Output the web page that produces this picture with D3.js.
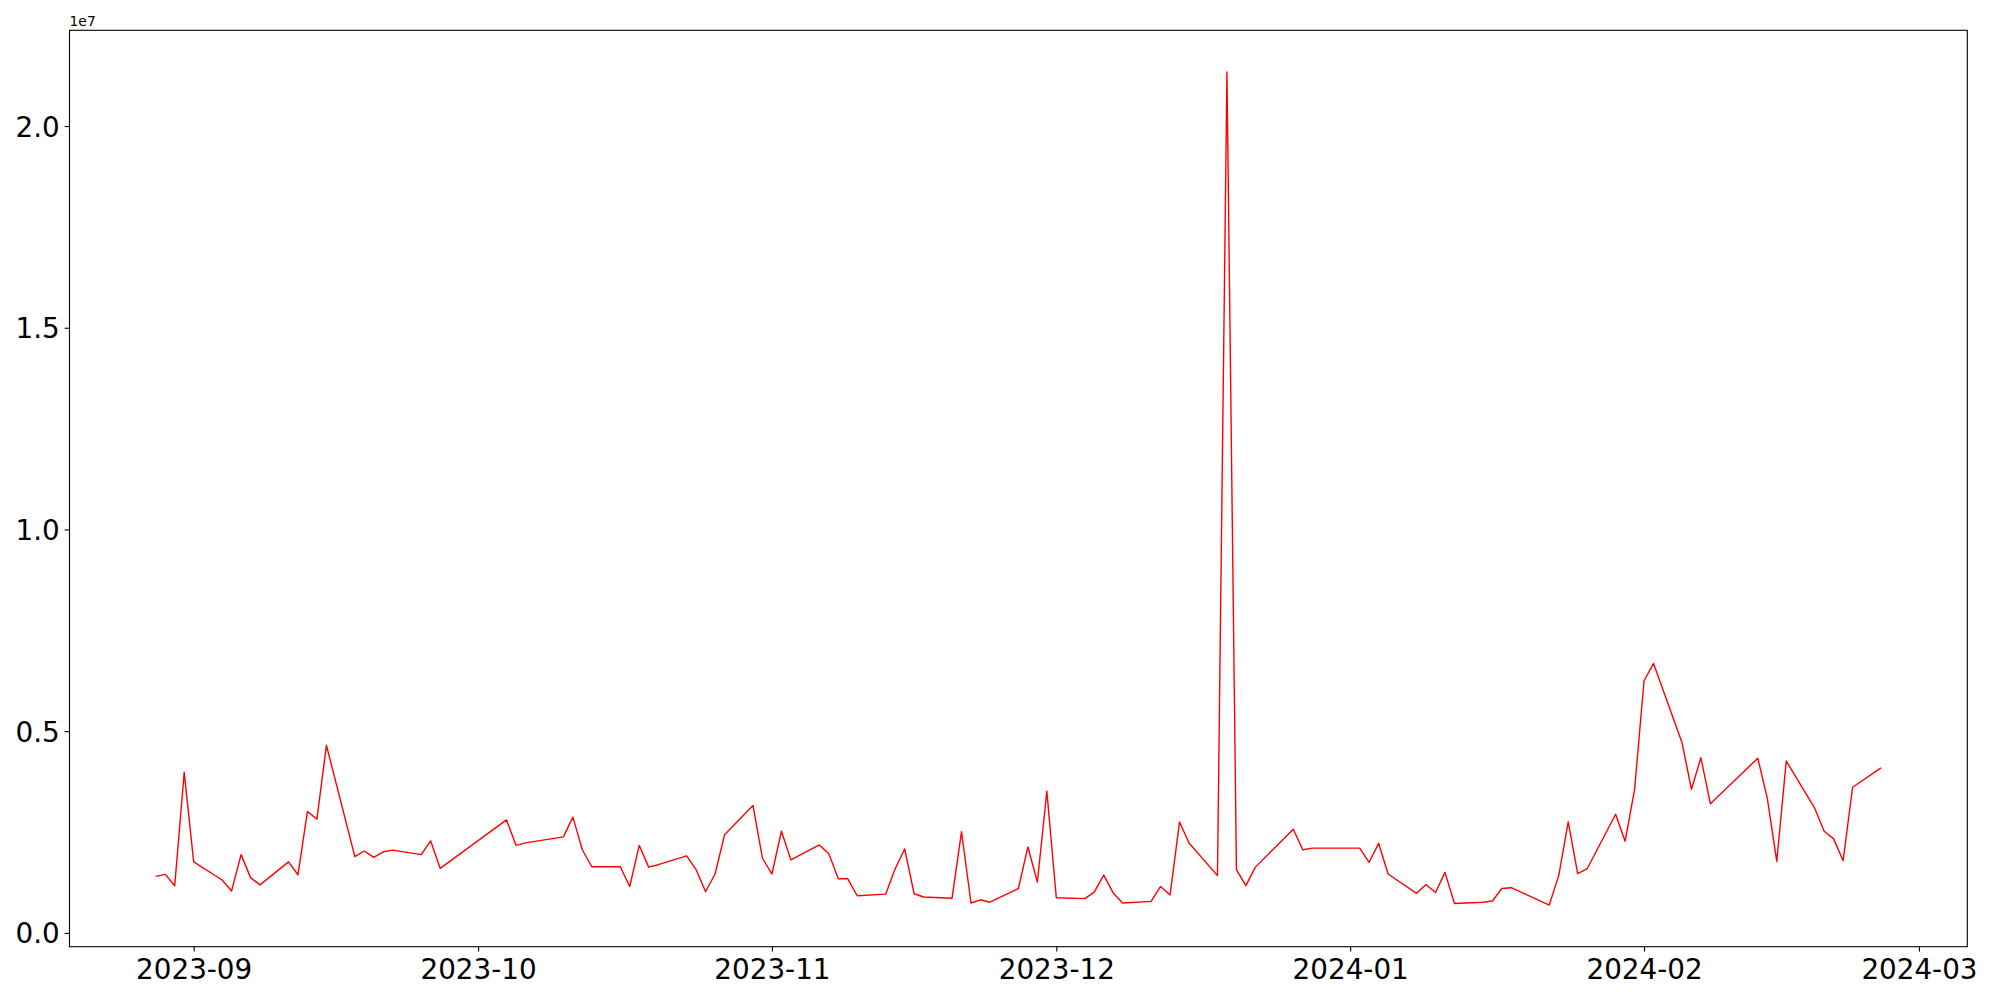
<!DOCTYPE html>
<html>
<head>
<meta charset="utf-8">
<script src="https://cdn.jsdelivr.net/npm/d3@7"></script>
<style>
  body { margin: 0; background: #fff; }
  text { font-family: "DejaVu Sans", sans-serif; fill: #000; }
</style>
</head>
<body>
<div id="chart"></div>
<script>
// trading days (KRX calendar) and daily values
var dates = [
  "2023-08-28","2023-08-29","2023-08-30","2023-08-31","2023-09-01",
  "2023-09-04","2023-09-05","2023-09-06","2023-09-07","2023-09-08",
  "2023-09-11","2023-09-12","2023-09-13","2023-09-14","2023-09-15",
  "2023-09-18","2023-09-19","2023-09-20","2023-09-21","2023-09-22",
  "2023-09-25","2023-09-26","2023-09-27",
  "2023-10-04","2023-10-05","2023-10-06",
  "2023-10-10","2023-10-11","2023-10-12","2023-10-13",
  "2023-10-16","2023-10-17","2023-10-18","2023-10-19","2023-10-20",
  "2023-10-23","2023-10-24","2023-10-25","2023-10-26","2023-10-27",
  "2023-10-30","2023-10-31","2023-11-01","2023-11-02","2023-11-03",
  "2023-11-06","2023-11-07","2023-11-08","2023-11-09","2023-11-10",
  "2023-11-13","2023-11-14","2023-11-15","2023-11-16","2023-11-17",
  "2023-11-20","2023-11-21","2023-11-22","2023-11-23","2023-11-24",
  "2023-11-27","2023-11-28","2023-11-29","2023-11-30","2023-12-01",
  "2023-12-04","2023-12-05","2023-12-06","2023-12-07","2023-12-08",
  "2023-12-11","2023-12-12","2023-12-13","2023-12-14","2023-12-15",
  "2023-12-18","2023-12-19","2023-12-20","2023-12-21","2023-12-22",
  "2023-12-26","2023-12-27","2023-12-28",
  "2024-01-02","2024-01-03","2024-01-04","2024-01-05",
  "2024-01-08","2024-01-09","2024-01-10","2024-01-11","2024-01-12",
  "2024-01-15","2024-01-16","2024-01-17","2024-01-18",
  "2024-01-22","2024-01-23","2024-01-24","2024-01-25","2024-01-26",
  "2024-01-29","2024-01-30","2024-01-31","2024-02-01","2024-02-02",
  "2024-02-05","2024-02-06","2024-02-07","2024-02-08",
  "2024-02-13","2024-02-14","2024-02-15","2024-02-16",
  "2024-02-19","2024-02-20","2024-02-21","2024-02-22","2024-02-23",
  "2024-02-26"
];

// in millions
var values = [
  1.40, 1.45, 1.17, 3.98, 1.76,
  1.31, 1.04, 1.94, 1.37, 1.19,
  1.76, 1.44, 3.01, 2.82, 4.65,
  1.89, 2.03, 1.87, 2.01, 2.05,
  1.94, 2.28, 1.60,
  2.80, 2.17, 2.23,
  2.38, 2.87, 2.06, 1.64,
  1.64, 1.15, 2.17, 1.63, 1.69,
  1.91, 1.57, 1.02, 1.46, 2.43,
  3.16, 1.85, 1.46, 2.52, 1.81,
  2.18, 1.96, 1.34, 1.34, 0.92,
  0.96, 1.59, 2.08, 0.97, 0.89,
  0.86, 2.51, 0.74, 0.82, 0.76,
  1.10, 2.13, 1.26, 3.51, 0.87,
  0.85, 1.01, 1.43, 0.99, 0.74,
  0.78, 1.15, 0.94, 2.75, 2.23,
  1.42, 21.34, 1.57, 1.17, 1.63,
  2.57, 2.06, 2.10,
  2.10, 1.75, 2.22, 1.46,
  0.98, 1.20, 1.00, 1.50, 0.73,
  0.76, 0.79, 1.10, 1.12,
  0.69, 1.42, 2.75, 1.47, 1.59,
  2.94, 2.27, 3.55, 6.25, 6.68,
  4.72, 3.56, 4.34, 3.20,
  4.33, 3.34, 1.77, 4.26,
  3.09, 2.52, 2.33, 1.79, 3.61,
  4.09
];

var yTicks = [0, 5e6, 1e7, 1.5e7, 2e7];
var xTicks = ["2023-09-01","2023-10-01","2023-11-01","2023-12-01","2024-01-01","2024-02-01","2024-03-01"];

var svgWidth = 2000;
var svgHeight = 1000;
var margin = { top: 30.3, right: 32.7, bottom: 53.3, left: 69.5 };
var width = svgWidth - margin.left - margin.right;
var height = svgHeight - margin.top - margin.bottom;

var parseDate = d3.utcParse("%Y-%m-%d");
var data = dates.map(function(d, i) {
  return { date: parseDate(d), value: values[i] * 1e6 };
});

var svg = d3.select("#chart")
  .append("svg")
  .attr("width", svgWidth)
  .attr("height", svgHeight);

var chartGroup = svg.append("g")
  .attr("transform", `translate(${margin.left}, ${margin.top})`);

// matplotlib style 5% padding on both axes
var xExt = d3.extent(data, function(d) { return d.date; });
var xPad = (xExt[1] - xExt[0]) * 0.05;
var x = d3.scaleUtc()
  .domain([new Date(+xExt[0] - xPad), new Date(+xExt[1] + xPad)])
  .range([0, width]);

var yExt = d3.extent(data, function(d) { return d.value; });
var yPad = (yExt[1] - yExt[0]) * 0.05;
var y = d3.scaleLinear()
  .domain([yExt[0] - yPad, yExt[1] + yPad])
  .range([height, 0]);

var tickFont = 27.8;

var xAxis = d3.axisBottom(x)
  .tickValues(xTicks.map(parseDate))
  .tickFormat(d3.utcFormat("%Y-%m"))
  .tickSize(4.9)
  .tickPadding(4.9);

var yAxis = d3.axisLeft(y)
  .tickValues(yTicks)
  .tickFormat(function(d) { return d3.format(".1f")(d / 1e7); })
  .tickSize(4.9)
  .tickPadding(4.9);

var gx = chartGroup.append("g")
  .attr("transform", `translate(0, ${height})`)
  .call(xAxis);
gx.select(".domain").remove();
gx.selectAll("line").attr("stroke", "#000").attr("stroke-width", 1.1);
gx.selectAll("text")
  .attr("font-size", tickFont)
  .attr("font-family", "DejaVu Sans")
  .attr("dy", null)
  .attr("y", 32.3);

var gy = chartGroup.append("g")
  .call(yAxis);
gy.select(".domain").remove();
gy.selectAll("line").attr("stroke", "#000").attr("stroke-width", 1.1);
gy.selectAll("text")
  .attr("font-size", tickFont)
  .attr("font-family", "DejaVu Sans")
  .attr("dy", "0.36em");

// the line
var line = d3.line()
  .x(function(d) { return x(d.date); })
  .y(function(d) { return y(d.value); });

chartGroup.append("path")
  .datum(data)
  .attr("fill", "none")
  .attr("stroke", "#ff0000")
  .attr("stroke-width", 1.4)
  .attr("stroke-linejoin", "round")
  .attr("d", line);

// frame
chartGroup.append("rect")
  .attr("x", 0)
  .attr("y", 0)
  .attr("width", width)
  .attr("height", height)
  .attr("fill", "none")
  .attr("stroke", "#000")
  .attr("stroke-width", 1.1);

// offset text
chartGroup.append("text")
  .attr("x", 0)
  .attr("y", -4.5)
  .attr("font-size", 13.9)
  .text("1e7");
</script>
</body>
</html>
